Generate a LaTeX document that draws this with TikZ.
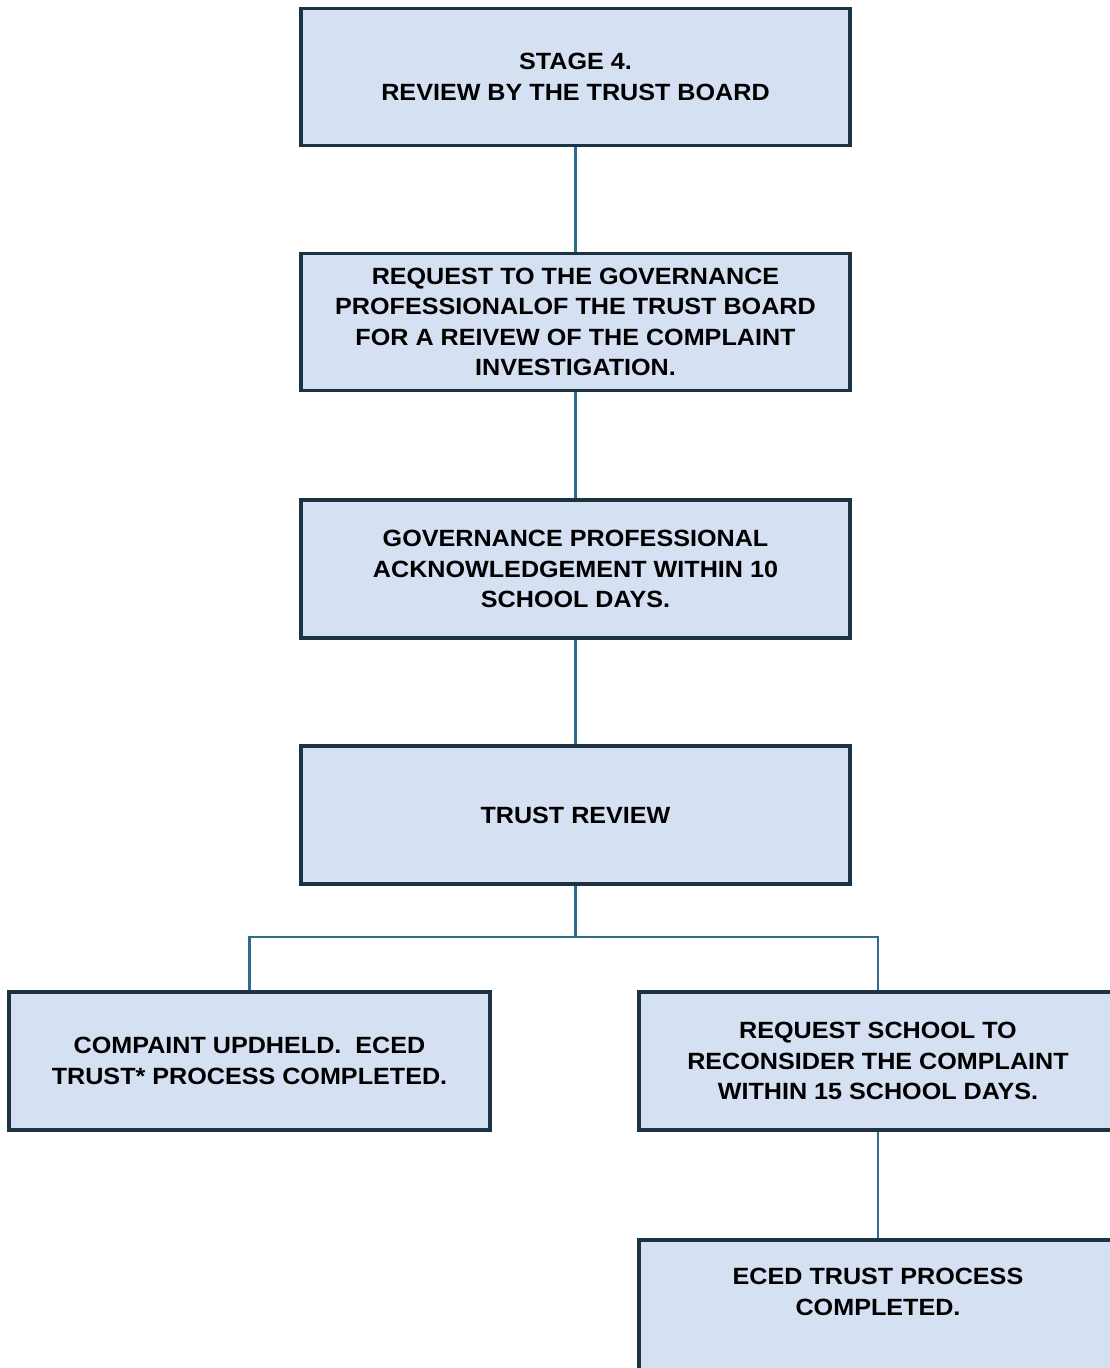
\documentclass[tikz,border=0pt]{standalone}
\usepackage{fontspec}
\newfontfamily\boxfont[FakeStretch=1.07]{Liberation Sans}
\definecolor{boxfill}{HTML}{D6E0F3}
\definecolor{boxedge}{HTML}{1C3343}
\definecolor{conn}{HTML}{2D6C8C}
\begin{document}
\begin{tikzpicture}[x=1pt,y=-1pt,
  stepbox/.style={draw=boxedge, line width=3.4pt, fill=boxfill, rectangle,
    minimum width=549pt, minimum height=137pt, inner sep=0pt,
    align=center, text=black, font=\boxfont\bfseries\fontsize{23.5}{30.5}\selectfont},
  boxtext/.style={align=center, text=black, inner sep=0pt,
    font=\boxfont\bfseries\fontsize{23.5}{30.5}\selectfont},
  link/.style={draw=conn, line width=2.8pt}]
\useasboundingbox (0,0) rectangle (1110,1368);
\node[stepbox] (b1) at (575.5,77) {STAGE 4.\\REVIEW BY THE TRUST BOARD};
\node[stepbox] (b2) at (575.5,322) {REQUEST TO THE GOVERNANCE\\PROFESSIONALOF THE TRUST BOARD\\FOR A REIVEW OF THE COMPLAINT\\INVESTIGATION.};
\node[stepbox, minimum height=138pt] (b3) at (575.5,569) {GOVERNANCE PROFESSIONAL\\ACKNOWLEDGEMENT WITHIN 10\\SCHOOL DAYS.};
\node[stepbox, minimum height=138pt] (b4) at (575.5,815) {TRUST REVIEW};
\node[stepbox, minimum width=481pt, minimum height=138pt] (b5) at (249.5,1061) {COMPAINT UPDHELD.\ \ ECED\\TRUST* PROCESS COMPLETED.};
\node[stepbox, minimum width=478pt, minimum height=138pt] (b6) at (878,1061) {REQUEST SCHOOL TO\\RECONSIDER THE COMPLAINT\\WITHIN 15 SCHOOL DAYS.};
\node[stepbox, minimum width=478pt, minimum height=138pt] (b7) at (878,1309) {};
\node[boxtext] (t7) at (878,1292) {ECED TRUST PROCESS\\COMPLETED.};
\coordinate (j) at (575.5,937);
\draw[link] (b1.south) -- (b2.north);
\draw[link] (b2.south) -- (b3.north);
\draw[link] (b3.south) -- (b4.north);
\draw[link] (b4.south) -- (j);
\draw[link] (j) -| (b5.north);
\draw[link] (j) -| (b6.north);
\draw[link] (b6.south) -- (b7.north);
\end{tikzpicture}
\end{document}
